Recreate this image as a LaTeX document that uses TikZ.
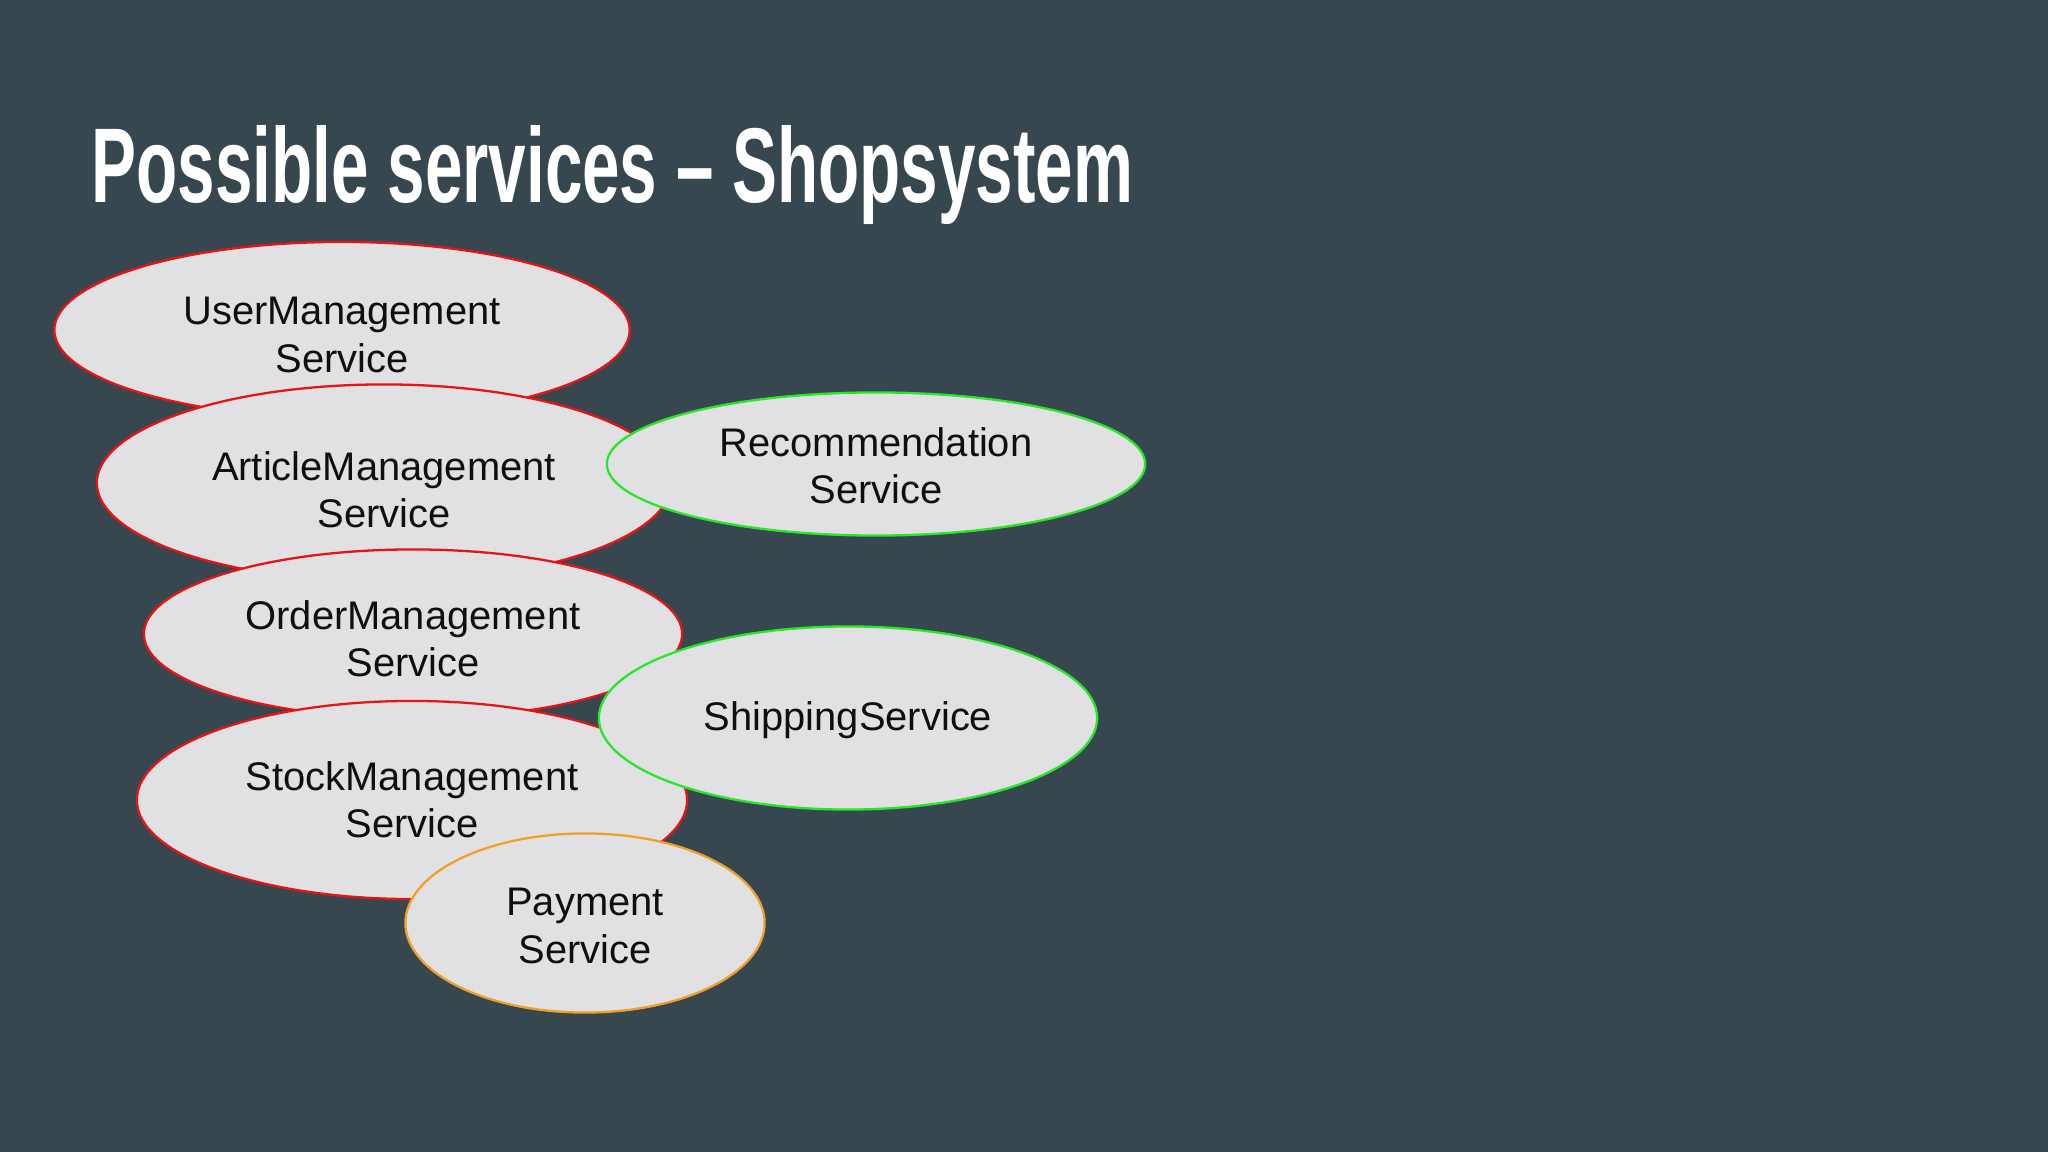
\documentclass[tikz,border=0pt]{standalone}
\usepackage{fontspec}
\setmainfont{Liberation Sans}
\usetikzlibrary{shapes.geometric}
\definecolor{bgc}{RGB}{55,71,79}
\definecolor{fillc}{RGB}{225,224,226}
\definecolor{redc}{RGB}{230,20,20}
\definecolor{greenc}{RGB}{40,230,40}
\definecolor{orangec}{RGB}{240,160,40}
\definecolor{txtc}{RGB}{15,15,15}
\tikzset{
  svc/.style={ellipse, fill=fillc, line width=0.65pt, inner sep=0pt},
  core/.style={svc, draw=redc},
  extra/.style={svc, draw=greenc},
  pay/.style={svc, draw=orangec},
  lbl/.style={inner sep=0pt, align=center, text=txtc, font=\fontsize{11.35}{13.4}\selectfont},
}
\begin{document}
\begin{tikzpicture}[x=0.01cm, y=-0.01cm]
\fill[bgc] (0,0) rectangle (2048,1152);
\useasboundingbox (0,0) rectangle (2048,1152);
\node[anchor=base west, inner sep=0pt, text=white] (title) at (91,203)
  {\resizebox{10.41cm}{0.77cm}{\fontsize{30}{36}\selectfont\bfseries Possible services -- Shopsystem}};
\node[core, minimum width=5.75cm, minimum height=1.76cm] (user) at (342,330) {};
\node[lbl] (usert) at ([yshift=-0.05cm]user.center) {UserManagement\\Service};
\node[core, minimum width=5.74cm, minimum height=1.97cm] (article) at (384,483) {};
\node[lbl] (articlet) at ([yshift=-0.07cm]article.center) {ArticleManagement\\Service};
\node[extra, minimum width=5.38cm, minimum height=1.43cm] (recom) at (876,464) {};
\node[lbl] (recomt) at ([yshift=-0.02cm]recom.center) {Recommendation\\Service};
\node[core, minimum width=5.38cm, minimum height=1.69cm] (order) at (413,634) {};
\node[lbl] (ordert) at ([yshift=-0.05cm]order.center) {OrderManagement\\Service};
\node[core, minimum width=5.50cm, minimum height=1.98cm] (stock) at (412,800) {};
\node[lbl] (stockt) at ([yshift=0cm]stock.center) {StockManagement\\Service};
\node[extra, minimum width=4.98cm, minimum height=1.83cm] (ship) at (848,718) {};
\node[lbl] (shipt) at ([yshift=-0.02cm]ship.center) {ShippingService};
\node[pay, minimum width=3.59cm, minimum height=1.79cm] (payment) at (585,923) {};
\node[lbl] (paymentt) at ([yshift=-0.03cm]payment.center) {Payment\\Service};
\end{tikzpicture}
\end{document}
